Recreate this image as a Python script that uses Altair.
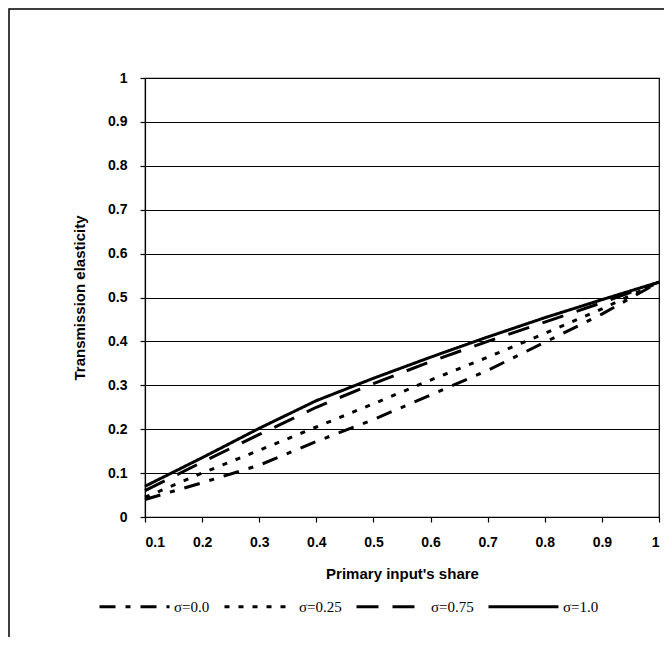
import altair as alt
import pandas as pd

shares = [0.1, 0.2, 0.3, 0.4, 0.5, 0.6, 0.7, 0.8, 0.9, 1.0]
sigma_labels = ["σ=0.0", "σ=0.25", "σ=0.75", "σ=1.0"]
s00 = [0.040, 0.078, 0.118, 0.172, 0.222, 0.278, 0.334, 0.398, 0.462, 0.535]
s025 = [0.045, 0.100, 0.152, 0.205, 0.258, 0.312, 0.364, 0.418, 0.474, 0.535]
s075 = [0.060, 0.125, 0.188, 0.250, 0.304, 0.354, 0.400, 0.444, 0.488, 0.535]
s100 = [0.070, 0.135, 0.202, 0.265, 0.316, 0.364, 0.410, 0.454, 0.495, 0.535]
dashes = [[16, 10, 5, 10], [5, 9], [22, 14], [1, 0]]

rows = []
for lab, vals in zip(sigma_labels, [s00, s025, s075, s100]):
    for x, v in zip(shares, vals):
        rows.append({"share": x, "elasticity": v, "sigma": lab})
df = pd.DataFrame(rows)

lines = alt.Chart(df).mark_line(color="black", strokeWidth=3).encode(
    x=alt.X("share:Q",
            scale=alt.Scale(domain=[0.1, 1.0], nice=False, zero=False),
            axis=alt.Axis(values=shares, format="~g", grid=False,
                          title="Primary input's share", tickSize=5,
                          labelPadding=13, titlePadding=17)),
    y=alt.Y("elasticity:Q",
            scale=alt.Scale(domain=[0, 1], nice=False),
            axis=alt.Axis(values=[i / 10 for i in range(11)], format="~g",
                          title="Transmission elasticity", tickSize=5,
                          labelPadding=13, titlePadding=20)),
    strokeDash=alt.StrokeDash(
        "sigma:N",
        scale=alt.Scale(domain=sigma_labels, range=dashes),
        legend=alt.Legend(title=None, orient="none", direction="horizontal",
                          legendX=-47, legendY=492, symbolType="stroke",
                          symbolSize=4900, symbolStrokeWidth=3,
                          symbolStrokeColor="black", labelFont="Liberation Serif",
                          labelFontSize=15, labelColor="black", labelOffset=3,
                          columnPadding=8, symbolOffset=0)),
)

frame = alt.Chart(alt.Data(values=[{}])).mark_rect(
    fillOpacity=0, stroke="black", strokeWidth=1.5, clip=False
).encode(
    x=alt.value(-136), x2=alt.value(700), y=alt.value(-69), y2=alt.value(800)
)

chart = alt.layer(frame, lines).properties(
    width=514, height=439,
    background="white",
    autosize=alt.AutoSizeParams(type="none"),
    padding={"left": 137, "top": 70, "right": 5, "bottom": 120},
).configure_view(
    stroke="black", strokeWidth=1.2
).configure_axis(
    labelFont="Liberation Sans", labelFontWeight="bold", labelFontSize=14,
    labelColor="black", titleFont="Liberation Sans", titleFontWeight="bold",
    titleFontSize=15, titleColor="black", domainColor="black",
    domainWidth=1.2, tickColor="black", tickWidth=1.2, gridColor="black",
    gridWidth=1.2, gridOpacity=1
)

chart.save("out.html", embed_options={"renderer": "svg", "actions": False})
